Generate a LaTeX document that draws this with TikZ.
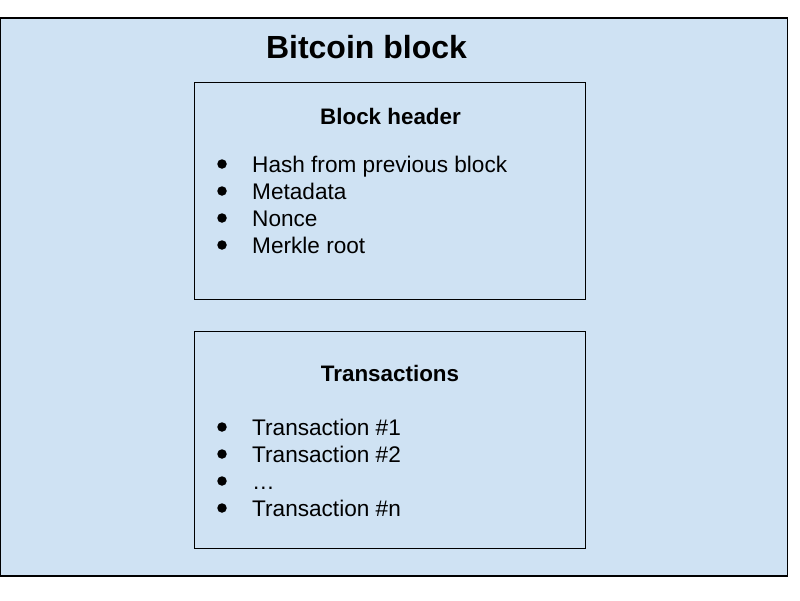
\documentclass[tikz,border=0pt]{standalone}
\usepackage{fontspec}
\setmainfont{Liberation Sans}
\definecolor{bgblue}{HTML}{CFE2F3}
\begin{document}
\begin{tikzpicture}[x=1pt,y=-1pt,
  frame/.style={draw=black,line width=1.2pt,fill=bgblue},
  inner/.style={draw=black,line width=1pt},
  ttl/.style={anchor=base,inner sep=0pt,font=\fontsize{32}{36}\selectfont\bfseries},
  sub/.style={anchor=base,inner sep=0pt,font=\fontsize{22.4}{26}\selectfont\bfseries},
  item/.style={anchor=base west,inner sep=0pt,font=\fontsize{22.6}{26}\selectfont},
  dot/.style={circle,fill=black,inner sep=0pt,minimum size=9.5pt}]
\useasboundingbox (0,0) rectangle (800,600);
\draw[frame] (0.6,18) rectangle (787.5,576);
\draw[inner] (194.5,82.7) rectangle (585,299);
\draw[inner] (194.5,331) rectangle (585,548);
\node[ttl] (title) at (366.5,58.5) {Bitcoin block};
\node[sub] (bh) at (390.5,124) {Block header};
\node[sub] (tx) at (390,381) {Transactions};
\foreach \n/\y/\t in {h1/164/Hash from previous block, h2/191/Metadata, h3/218/Nonce, h4/245/Merkle root,
  t1/427/Transaction \#1, t2/454/Transaction \#2, t3/481/…, t4/508/Transaction \#n}{
  \node[dot] (b\n) at (222,\y) {};
  \node[item] (\n) at (252,\y+8) {\t};
}
\end{tikzpicture}
\end{document}
